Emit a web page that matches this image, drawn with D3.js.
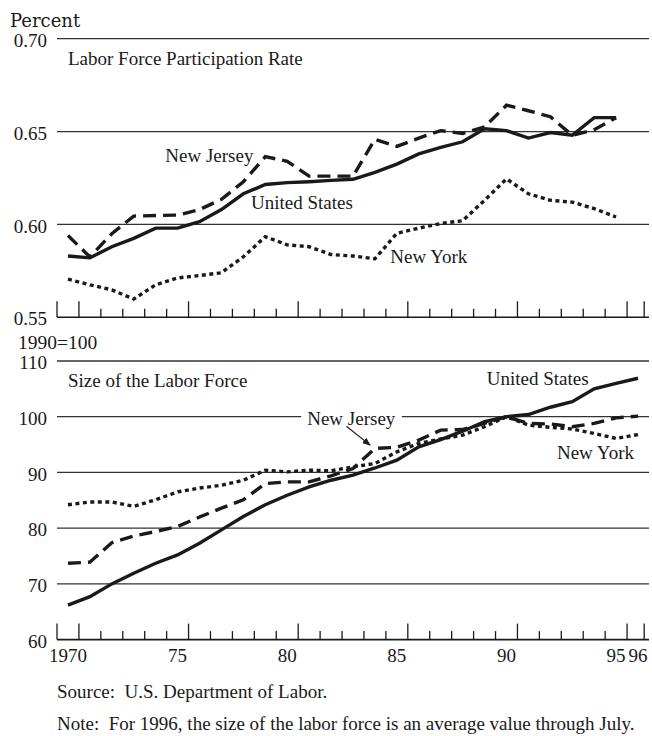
<!DOCTYPE html>
<html>
<head>
<meta charset="utf-8">
<script src="https://cdn.jsdelivr.net/npm/d3@7"></script>
<style>
  body { margin: 0; background: #fff; }
  svg { display: block; }
  text { font-family: "Liberation Serif", "Times New Roman", serif; fill: #1a1a1a; }
</style>
</head>
<body>
<div id="chart"></div>
<script>
// years
const yearsRate = d3.range(1970, 1996);
const yearsSize = d3.range(1970, 1997);

// labor force participation rate (top panel)
const usRate = [0.583, 0.582, 0.588, 0.5925, 0.598, 0.598, 0.6015, 0.608, 0.6165, 0.6215, 0.6225, 0.623, 0.6237,
  0.6243, 0.628, 0.6325, 0.638, 0.6415, 0.6445, 0.6515, 0.6505, 0.6465, 0.6495, 0.648, 0.6575, 0.6575];
const njRate = [0.594, 0.5825, 0.595, 0.6045, 0.6048, 0.605, 0.608, 0.6135, 0.623, 0.6365, 0.634, 0.626, 0.626,
  0.626, 0.6458, 0.642, 0.6465, 0.6505, 0.649, 0.6525, 0.6642, 0.6612, 0.658, 0.648, 0.651, 0.6575];
const nyRate = [0.5705, 0.5675, 0.5648, 0.5598, 0.5675, 0.5712, 0.5725, 0.574, 0.5826, 0.5934, 0.589, 0.588, 0.5838,
  0.583, 0.5815, 0.5952, 0.598, 0.6005, 0.602, 0.613, 0.6245, 0.6165, 0.613, 0.612, 0.6085, 0.604];

// size of the labor force, 1990=100 (bottom panel)
const usSize = [66.2, 67.7, 70.0, 71.9, 73.7, 75.2, 77.3, 79.7, 82.1, 84.2, 85.9, 87.4, 88.6, 89.5, 90.8, 92.2,
  94.6, 95.9, 97.4, 99.1, 100, 100.4, 101.7, 102.7, 105, 106, 106.9];
const njSize = [73.7, 73.9, 77.4, 78.6, 79.4, 80.3, 82.0, 83.6, 85.1, 88.0, 88.3, 88.3, 89.4, 90.7, 94.3, 94.5,
  95.8, 97.6, 97.7, 98.8, 100, 98.8, 98.7, 98.2, 98.8, 99.8, 100.1];
const nySize = [84.2, 84.7, 84.7, 83.9, 85.1, 86.5, 87.2, 87.7, 88.6, 90.4, 90.1, 90.4, 90.3, 91.0, 91.6, 93.7,
  95.2, 96.0, 96.7, 98.2, 100, 98.5, 98.1, 97.8, 97.0, 96.1, 96.8];

const rateTicks = [0.55, 0.60, 0.65, 0.70];
const sizeTicks = [60, 70, 80, 90, 100, 110];
const yearLabels = [[1970, '1970'], [1975, '75'], [1980, '80'], [1985, '85'], [1990, '90'], [1995, '95'], [1996, '96']];

const width = 652, height = 736;

const svg = d3.select('#chart').append('svg')
  .attr('width', width)
  .attr('height', height);

const x = d3.scaleLinear().domain([1970, 1997]).range([57, 649]);
const axisEnd = 1996.78;

const yTop = d3.scaleLinear().domain([0.55, 0.70]).range([317.3, 38.7]);
const yBot = d3.scaleLinear().domain([60, 110]).range([639.6, 361]);

const styles = {
  us: {dash: null},
  nj: {dash: '13,7'},
  ny: {dash: '4,3.5'}
};

function panel(y, ticks, fmt, series) {
  const g = svg.append('g');

  // gridlines
  g.selectAll('.grid')
    .data(ticks.slice(1))
    .enter().append('line')
    .attr('x1', x.range()[0])
    .attr('x2', x.range()[1])
    .attr('y1', d => y(d))
    .attr('y2', d => y(d))
    .attr('stroke', '#333')
    .attr('stroke-width', 1.3);

  // y labels
  const yAxis = g.append('g')
    .attr('transform', `translate(${x.range()[0] - 10},0)`)
    .call(d3.axisLeft(y).tickValues(ticks).tickSize(0).tickFormat(fmt));
  yAxis.select('.domain').remove();
  yAxis.selectAll('text')
    .attr('x', 0)
    .attr('dy', '0.4em')
    .style('font-size', '19px')
    .style('font-family', '"Liberation Serif", serif')
    .attr('fill', '#1a1a1a');

  // x axis line with upward ticks
  const base = y.range()[0];
  const boundaries = d3.range(1971, 1997);
  const major = [1970].concat(boundaries.filter(d => (d - 1971) % 5 === 0), [axisEnd]);
  const minor = boundaries.filter(d => (d - 1971) % 5 !== 0);

  g.append('line')
    .attr('x1', x.range()[0])
    .attr('x2', x.range()[1])
    .attr('y1', base)
    .attr('y2', base)
    .attr('stroke', '#1a1a1a')
    .attr('stroke-width', 1.6);

  const tickLine = (vals, len) => g.selectAll(null)
    .data(vals)
    .enter().append('line')
    .attr('x1', d => x(d))
    .attr('x2', d => x(d))
    .attr('y1', base)
    .attr('y2', base - len)
    .attr('stroke', '#1a1a1a')
    .attr('stroke-width', 1.3);
  tickLine(major, 16);
  tickLine(minor, 8.5);

  // series lines
  const line = d3.line()
    .x(d => x(d[0] + 0.5))
    .y(d => y(d[1]));

  series.forEach(s => {
    g.append('path')
      .datum(s.years.map((yr, i) => [yr, s.values[i]]))
      .attr('d', line)
      .attr('fill', 'none')
      .attr('stroke', '#1a1a1a')
      .attr('stroke-width', 3.4)
      .attr('stroke-linejoin', 'miter')
      .attr('stroke-dasharray', styles[s.key].dash);
  });

  return g;
}

const topPanel = panel(yTop, rateTicks, d3.format('.2f'), [
  {key: 'ny', years: yearsRate, values: nyRate},
  {key: 'nj', years: yearsRate, values: njRate},
  {key: 'us', years: yearsRate, values: usRate}
]);

const bottomPanel = panel(yBot, sizeTicks, d3.format('d'), [
  {key: 'ny', years: yearsSize, values: nySize},
  {key: 'nj', years: yearsSize, values: njSize},
  {key: 'us', years: yearsSize, values: usSize}
]);

// unit captions
svg.append('text')
  .attr('x', 10).attr('y', 27)
  .style('font-family', '"DejaVu Serif", serif')
  .style('font-size', '18px')
  .text('Percent');

svg.append('text')
  .attr('x', 18).attr('y', 349)
  .style('font-size', '19.5px')
  .text('1990=100');

// panel titles and series labels
const label = (g, yScale, yr, v, txt, anchor) => g.append('text')
  .attr('x', x(yr))
  .attr('y', yScale(v))
  .attr('text-anchor', anchor || 'start')
  .style('font-size', '19px')
  .text(txt);

label(topPanel, yTop, 1970.5, 0.6857, 'Labor Force Participation Rate');
label(topPanel, yTop, 1974.94, 0.6337, 'New Jersey');
label(topPanel, yTop, 1978.85, 0.6083, 'United States');
label(topPanel, yTop, 1985.2, 0.5791, 'New York');

label(bottomPanel, yBot, 1970.5, 105.4, 'Size of the Labor Force');
label(bottomPanel, yBot, 1989.6, 105.7, 'United States');
label(bottomPanel, yBot, 1992.8, 92.35, 'New York');

// New Jersey label sits on the 100 gridline, with a gap behind it
const njLab = label(bottomPanel, yBot, 1985.43, 98.5, 'New Jersey', 'end');
const bb = njLab.node().getBBox();
bottomPanel.insert('rect', () => njLab.node())
  .attr('x', bb.x - 6).attr('y', bb.y)
  .attr('width', bb.width + 12).attr('height', bb.height)
  .attr('fill', '#fff');

// arrow to the NJ line
svg.append('defs').append('marker')
  .attr('id', 'arrow')
  .attr('viewBox', '0 0 10 10')
  .attr('refX', 9).attr('refY', 5)
  .attr('markerWidth', 7).attr('markerHeight', 7)
  .attr('orient', 'auto')
  .append('path')
  .attr('d', 'M0,1 L10,5 L0,9 Z')
  .attr('fill', '#1a1a1a');

bottomPanel.append('line')
  .attr('x1', x(1983.2)).attr('y1', yBot(98.3))
  .attr('x2', x(1984.28)).attr('y2', yBot(94.9))
  .attr('stroke', '#1a1a1a')
  .attr('stroke-width', 1.2)
  .attr('marker-end', 'url(#arrow)');

// x labels under bottom panel
svg.append('g').selectAll('text')
  .data(yearLabels)
  .enter().append('text')
  .attr('x', d => x(d[0] + 0.5))
  .attr('y', 662)
  .attr('text-anchor', 'middle')
  .style('font-size', '19px')
  .text(d => d[1]);

// notes
svg.append('text')
  .attr('x', 57).attr('y', 697.5)
  .style('font-size', '19px')
  .attr('xml:space', 'preserve')
  .text('Source:  U.S. Department of Labor.');

svg.append('text')
  .attr('x', 57).attr('y', 730)
  .style('font-size', '19px')
  .attr('xml:space', 'preserve')
  .text('Note:  For 1996, the size of the labor force is an average value through July.');
</script>
</body>
</html>
